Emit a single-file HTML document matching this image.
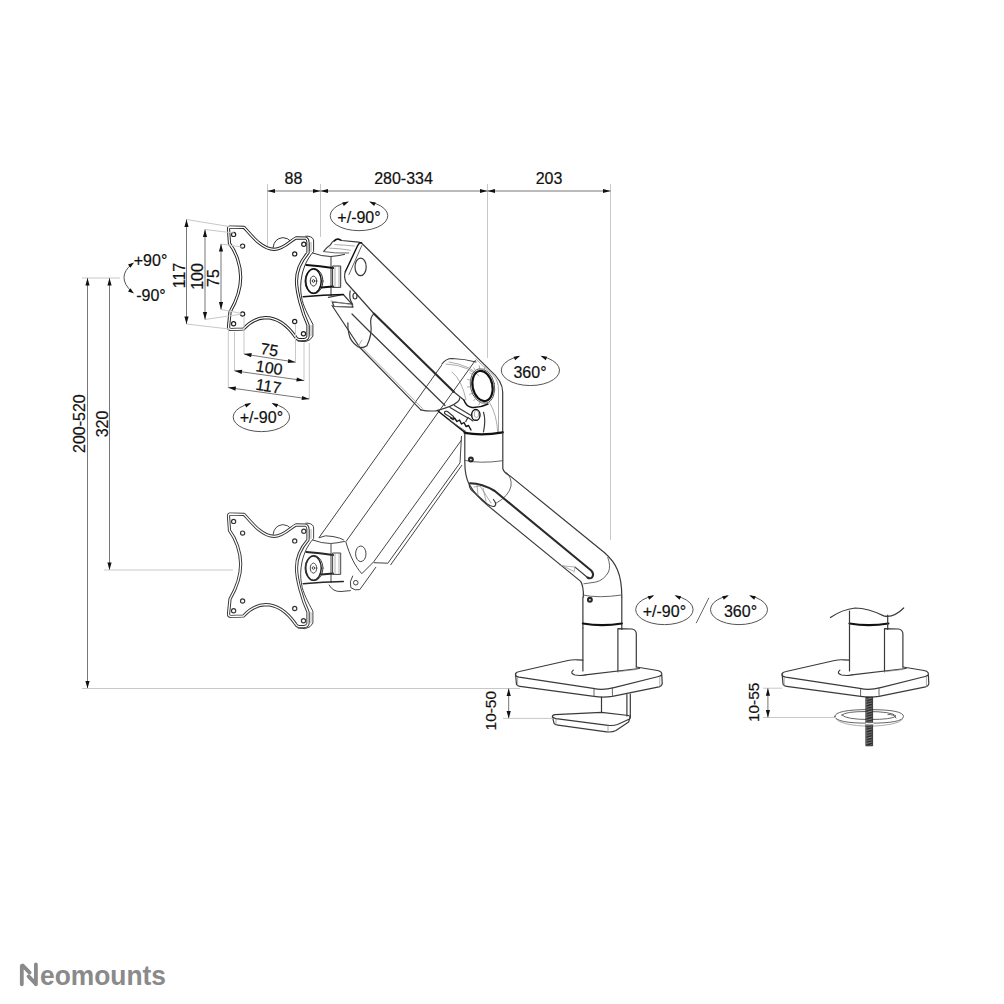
<!DOCTYPE html>
<html><head><meta charset="utf-8">
<style>
html,body{margin:0;padding:0;background:#fff;}
svg{display:block;}
.dim{stroke:#777;stroke-width:1;fill:none;}
.ext{stroke:#c8c8c8;stroke-width:1;fill:none;}
.ah{fill:#111;stroke:none;}
.rot{stroke:#555;stroke-width:1;fill:none;}
.slash{stroke:#666;stroke-width:1;}
.t{font-family:"Liberation Sans",sans-serif;fill:#111;stroke:#111;stroke-width:0.2;text-anchor:middle;}
.o{stroke:#3a3a3a;stroke-width:1.2;fill:none;stroke-linejoin:round;stroke-linecap:round;}
.of{stroke:#222;stroke-width:1;fill:#fff;stroke-linejoin:round;}
.g{stroke:#444;stroke-width:1;fill:none;}
.gf{stroke:#888;stroke-width:0.8;fill:#fff;}
.thick{stroke:#111;stroke-width:2;fill:none;stroke-linecap:round;}
.pl{stroke:#222;stroke-width:1.3;}
.k{stroke:#111;stroke-width:1.4;}
.k2{stroke:#2a2a2a;stroke-width:2.1;}
.k3{stroke:#111;stroke-width:2.2;}
.lt{stroke:#888;stroke-width:0.7;}
.gk{stroke:#777;stroke-width:1.1;}
.bolt{fill:#444;stroke:#222;}
.po{stroke:#222;stroke-width:3.2;fill:#fff;}
.pi{stroke:#fff;stroke-width:1.3;fill:none;}
.pt{stroke:#333;stroke-width:1;fill:none;}
.pk{stroke:#111;stroke-width:1.5;fill:none;}
.pk2{stroke:#111;stroke-width:2;fill:none;}
.ph{stroke:#222;stroke-width:1.2;fill:#fff;}
.g2{stroke:#555;stroke-width:0.9;fill:none;}
.logo{font-family:"Liberation Sans",sans-serif;font-weight:bold;fill:#8a8a8a;}
</style></head><body>
<svg width="1004" height="1004" viewBox="0 0 1004 1004">
<rect width="1004" height="1004" fill="#fff"/>
<!-- ===== GHOST ARM (light) ===== -->
<g class="g">
<!-- arm -->
  <path d="M318.9 537.8 Q325 534.5 333 536.5 Q341 538 343.8 540"/>
  <path d="M328.9 584.7 Q333 592 341 591.5 L350.8 590.6"/>
  <path d="M318.9 537.8 L441.8 365"/>
  <path d="M345.8 541.8 L475.6 360"/>
  <path d="M373.7 561.8 L461.5 440"/>
  <path d="M387.6 563.5 L460 462.8"/>
  <path d="M390.5 565 L462 465"/>
  <path d="M461.5 436 L460 462.8"/>
  <path d="M345.8 541.8 C350 556 355 566 361.8 573.7 L373.7 561.8"/>
  <path d="M373.7 562.7 L387.6 563.2"/>
  <ellipse cx="360.8" cy="553.8" rx="5.2" ry="7.8"/>
  <path d="M352.8 575.7 Q349 582 350.8 587.6 Q355 591 359.8 589.6 L376 567"/>
  <circle cx="355.8" cy="582.7" r="2.3"/>
</g>

<!-- ===== MAIN ARM (dark) ===== -->
<g class="o">
  <path d="M323.7 251.3 Q327 247 330 245.3 Q332.5 241.5 334.2 240.5 Q337 238.5 341.8 240.5 L358.6 242.2 L361.4 242.9"/>
  <path d="M334.9 244.6 Q345 245 354.4 246" class="lt"/>
  <path d="M329.3 248.1 Q340 248.5 350.2 250.2" class="lt"/>
  <path d="M323.7 251.6 Q335 253.5 348.8 253" class="g2"/>
  <path d="M334.3 241 Q337 237.5 340.7 240" class="k"/>
  <path d="M328.4 297.4 L343.3 294.5 L351.7 303.9"/>
  <path d="M332.3 302 L351.7 304 L353 307.1 L334 306.5 Z"/>
  <path d="M331 301 L353 305" class="lt"/>

  <!-- upper arm top shell -->
  <path d="M361.5 243 L489.7 369.9 Q502.7 381 502.7 392 V432.6"/>
  <path d="M475.8 358.9 L493.7 375.9 Q498.5 381 498.5 390 V432" class="lt"/>
  <path d="M361.4 242.9 Q359.5 242.3 357.8 245.3 L345.3 271.8" class="k"/>
  <path d="M345.3 271.8 Q343.5 277 346.2 282.5 L352.9 290 L373.8 313.5"/>
  <path d="M361.8 245.5 L349 274.5" class="g2"/>
  <path d="M373.8 313.5 L454 392" class="k2"/>
  <path d="M454 392 L463.9 400"/>
  <ellipse cx="360.6" cy="266.9" rx="5.6" ry="8.8"/>
  <ellipse cx="355" cy="296" rx="2" ry="3"/>
  <path d="M350.2 290.8 Q348.5 298 352.6 304.3"/>
  <!-- lower channel -->
  <path d="M352 314 L371 333 M371.5 333.3 L445 405.5"/>
  <path d="M332 305.5 L359.8 347.5 L420.8 409.8"/>
  <path d="M361.5 346.8 L422.5 408.5" class="lt"/>
  <path d="M420.8 409.8 Q428 411.5 435.8 410.8 Q452 407 457.7 401.8 Q460 399.5 459.7 397.8"/>
  <path d="M373.8 313.9 Q370 317 370.8 324 Q372.5 334 366.9 345.8 Q362 349 357.9 346.8 Q350 341 348.9 333.8 Q347.5 327 347.9 322.9"/>
  <path d="M357.9 346.8 L362 340" class="lt"/>

  <!-- pivot housing -->
  <path d="M441.9 364 Q446 358.5 452 358.5 Q465 359 476 362"/>
  <path d="M446 364 Q458 364.5 467.8 368.9 L474 373" class="lt"/>
  <path d="M449 362 Q458 363 469 368 Q476 372 479 376" class="lt"/>
  <path d="M452 372 Q462 380 466 400" class="lt"/>
  <path d="M489.7 402.7 Q497 415 497.7 432.6" class="lt"/>
  <path d="M483.5 412.3 Q486 420 483.5 432"/>
  <ellipse cx="482.5" cy="386" rx="9.9" ry="15.3" transform="rotate(-12 482.5 386)" class="k3"/>
  <ellipse cx="482.5" cy="386" rx="12" ry="17.5" transform="rotate(-12 482.5 386)" class="g2"/>
  <path d="M480.1 401.1L478.9 404.9 M476.1 397.7L473.6 400.8 M473.1 392.6L469.6 394.5 M471.4 386.6L467.5 387.0 M471.4 380.4L467.5 379.3 M473.0 375.1L469.8 372.6 M475.9 371.4L473.9 367.9 M479.8 369.7L479.3 365.8 M484.1 370.5L485.1 366.6" class="lt"/>
  <ellipse cx="475.8" cy="414.9" rx="4.2" ry="5.4" class="k"/>
  <ellipse cx="476.5" cy="414" rx="2.3" ry="3.5" class="lt"/>
  
  
  
  
  <path d="M463.9 400 Q466 406.5 472 407.5 Q480 408 488 404" class="k"/>
  <path d="M438 411 L464.9 432.4" class="k"/>
  <path d="M445 411.5 Q443.5 413 446 414.5 L452 418 Q454 418.5 453.5 416.5 L447.5 411.5 Q446 410.8 445 411.5Z"/>
  <path d="M450.5 418 L453 419.5 L454.5 418 L457 421.5 L459.5 420 L461.5 424 L464 422.5 L466 426.5 L468.5 425.5 L471 430" class="k"/>
  <path d="M449 420 L466 431.5" class="g2"/>
  <path d="M450 407.5 L467.9 418 M454.4 405.5 L472 416" />
  <path d="M465.8 421.6 L467.9 417.4 L472.9 420.9"/>
  <path d="M464.6 432.9 Q482 436 502.8 432.3" class="k3"/>

  <!-- upper column + elbow -->
  <path d="M464.8 433.5 V462 Q464.8 476 469.3 484.6 Q476 496 488.5 506.1 L580.7 581.4 Q583.5 586 583.5 597"/>
  <path d="M502.8 432.5 V468.7 Q504 472.5 510 475.9 L604.6 552.7 Q614 561 617.5 570 Q621.8 580 621.8 597"/>
  <path d="M464.6 460.3 Q479 464 502.8 460.7" class="g2"/>
  <circle cx="470.9" cy="459.5" r="1.9" class="k2"/>
  <path d="M506.8 472.7 Q512 478 511 486 Q509 496 496.4 503" class="g2"/>
  <path d="M470.1 483.3 Q482 483.5 494.8 491 L591.2 570.5 Q594.5 574 592 577.5 Q590 579 587.5 577.5" class="k2"/>
  <path d="M587.5 577.5 L575.1 567.1"/>
  <path d="M470.1 483.3 Q467.5 487 473.3 491.8 L486.9 503.7 Q492 507.5 494.8 506.1 Q497 504 493.5 499.5"/>
  <path d="M474 487 L480 486 L491 503 M477 485 L478 495 M483 488 L486 501" class="lt"/>
  <path d="M560 565.5 L575.1 567.1 L574 572 M563 566 L573 571" class="lt"/>

  <!-- lower arm inner arc -->
  <path d="M607.8 557.5 Q611 566 608.5 572 Q604 580 596 582 L583.9 583.8" class="g2"/>

  <!-- lower column (base1 upper part) -->
  <path d="M582.9 597 V628"/>
  <path d="M621.8 597 V629.5"/>
  <path d="M582.9 595 Q598 598.5 621.8 595" class="g2"/>
  <circle cx="589.9" cy="599.8" r="1.9" class="k2"/>
  <!-- lower clamp -->
  <path d="M601.5 697.1 V712.4 M626.9 694.5 V716 M630.3 694 V716.6" />
  <path d="M552.4 716.6 Q552.5 714.8 555 714.6 L601.5 712.4 L628.5 715.5 Q631.5 716.5 629.5 719 L617.5 724.5 Q613.4 726 608 725.3 L556 718.6 Q552.6 718 552.4 716.6 Z"/>
  <path d="M552.4 716.8 L554.1 723.4 Q555 724.8 558 725.2 L606.6 731.8 Q612 732.5 616 730.5 L628.6 722 L630.3 716.6"/>
  <path d="M556 719 V725 M608 725.3 V731.8" class="lt"/>
</g>

<defs>
<g id="base">
  <path d="M582.9 628 V671"/>
  <path d="M582.9 623.5 Q602 626.8 621.8 623.5" class="k3"/>
  <path d="M617.9 671.7 V628.7 L632 629 Q636.3 630 636.3 634 V667"/>
  <path d="M573.3 670.1 Q569.5 673.5 575 675 Q580 676 585.3 674.9"/>
  <path d="M585.3 674.9 L639.4 668.5"/>
  <path d="M617.9 671.7 L636.3 669.5" class="lt"/>
  <path d="M636.3 667 L657.5 670.5 Q663 671.8 661.5 675 Q660.5 676 658.5 676.5 L614 687.6 Q603 690.5 593.2 688.4 L519 677.2 Q515 676.5 515.5 674 Q516 672 519.5 671.5 L568 660.5 Q572 659.5 577.3 659.8 L582.9 660.2"/>
  <path d="M515.5 674 L516.5 684.5 Q517.5 686 520 686.3 L594 696.4 Q603 698 612.4 696.4 L659 686.8 Q662.3 686 662.2 683 L661.8 675"/>
  <path d="M594 689 V696.4 M612.4 688 V696.4" class="g2"/>
  <path d="M659.8 676.5 V686.5 M517.6 677 V685" class="lt"/>
</g>
</defs>
<g class="o"><use href="#base"/><use href="#base" transform="translate(266.6 0)"/></g>

<!-- ===== second base (right) extras ===== -->
<g class="o">
  <path d="M830.4 617.5 Q842 609.5 855.1 608 Q868 608 883.7 615.9 Q893 618.5 903.7 608"/>
  <path d="M849.5 611.2 V628"/>
  <path d="M887.7 615.1 V629.5"/>
  <!-- washer -->
  <path d="M834.8 716.4 Q835 709.6 869 709.6 Q903.3 709.6 903.5 716.4 Q903.3 723.2 869 723.2 Q835 723.2 834.8 716.4 Z" class="g2"/>
  <path d="M842 715 Q845 711.5 867 711.5 Q892 711.5 896 716 Q893 719.5 869 719.5 Q846 719.5 842 715Z" class="g2"/>
  <path d="M836 719 Q841 725.5 869 726.3 Q897 725.5 902.5 719.5" class="lt"/>
  <path d="M888 714.5 Q894 714 896 718" class="g2"/>
  <!-- bolt -->
  <rect x="866.2" y="697.2" width="6.4" height="48.6" fill="url(#thread)" stroke="#222" stroke-width="0.8"/>
  <path d="M866 723.8 H873" stroke="#fff" stroke-width="1.6"/>
  <path d="M866 722.6 Q869 723.2 873 722.6 M866 725 Q869 725.6 873 725" class="lt"/>
</g>
<defs>
<pattern id="thread" patternUnits="userSpaceOnUse" width="6.4" height="2.6" x="866.2" y="697.2">
  <rect width="6.4" height="2.6" fill="#2a2a2a"/>
  <path d="M0 2.2 L6.4 0.6" stroke="#9a9a9a" stroke-width="0.8"/>
</pattern>
</defs>
<defs>
<path id="platepath" d="M230 227 L244 227.3 C252 236 262 249.4 274 249.4 C284 249.4 291 240 296.1 237.9 L305.9 238.1 Q308 239.2 308 242.5 L308 252.9 C300 262 296.5 270 296.5 281 C296.5 292 302 312 308 325 L308 336.8 Q307 339.6 304 339.6 L299 339.6 Q296.5 339.2 295.4 336.8 C287 325 277 317.7 265.5 317.7 C255 318 248 324 243.5 329 L231 329.5 Q228.5 329.3 228.5 327 L230 312 C237 300 240.7 289 240.7 277 C240.7 265 236 252 229.5 243.5 L228.5 229.5 Q228.5 227 230 227 Z"/>
<g id="vesa">
  <!-- thickness band right side -->
  <path d="M305.9 236.2 L308 236.2 Q313.6 237 313.6 241 V251.5 C307 259 303.8 266.8 302 275 C300.3 283 300.3 290 301.5 297 C303 306 308 315 312.9 324.3 V336.1 Q311 340.5 305.2 341.7 L298 341" class="pt"/>
  <path d="M308 242 V252.9 M308 325 V336.8" class="pt"/>
  <path d="M309.5 243 V251 M311 242.5 V251.5 M309.5 326 V335 M311 325.5 V336" class="lt"/>
  <!-- bump -->
  <path d="M273.1 247.5 Q274 238.5 282.9 237.6 Q288 238 290.5 241" class="pt"/>
  <!-- plate front (double line via white core) -->
  <use href="#platepath" class="po"/>
  <use href="#platepath" class="pi"/>
  <circle cx="233.6" cy="234.4" r="2.1" class="ph"/><circle cx="242.6" cy="246.1" r="2.1" class="ph"/>
  <circle cx="303.8" cy="244.2" r="2.1" class="ph"/><circle cx="294.7" cy="253.9" r="2.1" class="ph"/>
  <circle cx="242.6" cy="314" r="2.1" class="ph"/><circle cx="233.6" cy="323.7" r="2.1" class="ph"/>
  <circle cx="294.7" cy="321.5" r="2.1" class="ph"/><circle cx="303.5" cy="333.7" r="2.1" class="ph"/>
  <!-- knuckle -->
  
  <path d="M312.6 253 Q322 256.5 330.7 256.5 Q338 256 344.6 254.4" class="pt"/>
  <path d="M331 257 V295.5" class="pt"/>
  <path d="M303.2 296.8 Q323 295 343.3 294.5" class="pk"/>
  <ellipse cx="314" cy="281.1" rx="9" ry="12.6" class="pt"/>
  <ellipse cx="313.5" cy="281.1" rx="7.75" ry="12.1" class="pk"/>
  <ellipse cx="313.5" cy="281.1" rx="3.25" ry="5" class="pt"/>
  <circle cx="313.5" cy="281" r="1.3" class="pt"/>
  <path d="M306.4 265.1 Q320 266 333 268" class="pk2"/>
  <path d="M321.3 287.4 L333 286.4" class="pk2"/>
  <path d="M333 266 H340.7 V287.4 H333 Z" class="pt"/>
  <path d="M335 267 V286.5 M339 266.5 V287" class="lt"/>
</g>
</defs>
<g class="o"><use href="#vesa"/></g>
<g class="o" opacity="0.9"><use href="#vesa" transform="translate(0 287)"/></g>

<line class="ext" x1="267.5" y1="184" x2="267.5" y2="246"/>
<line class="ext" x1="320.5" y1="184" x2="320.5" y2="237"/>
<line class="ext" x1="487.5" y1="184" x2="487.5" y2="358"/>
<line class="ext" x1="610.5" y1="184" x2="610.5" y2="540"/>
<line class="dim" x1="267.5" y1="191" x2="320.5" y2="191"/>
<path class="ah" d="M320.5 191L313 193.1L313 188.9Z"/>
<path class="ah" d="M267.5 191L275 188.9L275 193.1Z"/>
<line class="dim" x1="320.5" y1="191" x2="487.5" y2="191"/>
<path class="ah" d="M487.5 191L480 193.1L480 188.9Z"/>
<path class="ah" d="M320.5 191L328 188.9L328 193.1Z"/>
<line class="dim" x1="487.5" y1="191" x2="610.5" y2="191"/>
<path class="ah" d="M610.5 191L603 193.1L603 188.9Z"/>
<path class="ah" d="M487.5 191L495 188.9L495 193.1Z"/>
<text class="t" transform="translate(293.5 178) rotate(0)" x="0" y="5.7" font-size="16">88</text>
<text class="t" transform="translate(403.5 178) rotate(0)" x="0" y="5.7" font-size="16">280-334</text>
<text class="t" transform="translate(549 178) rotate(0)" x="0" y="5.7" font-size="16">203</text>
<line class="ext" x1="82" y1="278" x2="120" y2="278"/>
<line class="dim" x1="87.5" y1="688.5" x2="87.5" y2="278"/>
<path class="ah" d="M87.5 278L89.6 285.5L85.4 285.5Z"/>
<path class="ah" d="M87.5 688.5L85.4 681L89.6 681Z"/>
<line class="dim" x1="109.5" y1="570" x2="109.5" y2="278"/>
<path class="ah" d="M109.5 278L111.6 285.5L107.4 285.5Z"/>
<path class="ah" d="M109.5 570L107.4 562.5L111.6 562.5Z"/>
<line class="ext" x1="104" y1="570" x2="233" y2="570"/>
<line class="ext" x1="82" y1="688.5" x2="520" y2="688.5"/>
<text class="t" transform="translate(79.3 423.6) rotate(-90)" x="0" y="5.7" font-size="16">200-520</text>
<text class="t" transform="translate(101.9 424) rotate(-90)" x="0" y="5.7" font-size="16">320</text>
<path class="rot" d="M132 264 Q116 277 132 292"/>
<path class="ah" d="M134 262.5L130.4 267.7L128 264.5Z"/>
<path class="ah" d="M134 293.5L128 291.5L130.4 288.3Z"/>
<text class="t" transform="translate(150.5 260) rotate(0)" x="0" y="5.7" font-size="16">+90°</text>
<text class="t" transform="translate(151 295.5) rotate(0)" x="0" y="5.7" font-size="16">-90°</text>
<line class="ext" x1="186.5" y1="219.5" x2="229" y2="226.5"/>
<line class="ext" x1="205" y1="229.5" x2="234" y2="233"/>
<line class="ext" x1="221" y1="244" x2="242" y2="247"/>
<line class="ext" x1="186.5" y1="324" x2="229" y2="329"/>
<line class="ext" x1="205" y1="319.5" x2="242" y2="314"/>
<line class="ext" x1="221" y1="309.5" x2="242" y2="313.5"/>
<line class="dim" x1="186.5" y1="219.5" x2="186.5" y2="324"/>
<path class="ah" d="M186.5 324L184.4 316.5L188.6 316.5Z"/>
<path class="ah" d="M186.5 219.5L188.6 227L184.4 227Z"/>
<line class="dim" x1="205" y1="229.5" x2="205" y2="319.5"/>
<path class="ah" d="M205 319.5L202.9 312L207.1 312Z"/>
<path class="ah" d="M205 229.5L207.1 237L202.9 237Z"/>
<line class="dim" x1="221" y1="244" x2="221" y2="309.5"/>
<path class="ah" d="M221 309.5L218.9 302L223.1 302Z"/>
<path class="ah" d="M221 244L223.1 251.5L218.9 251.5Z"/>
<text class="t" transform="translate(179 275.5) rotate(-90)" x="0" y="5.7" font-size="16">117</text>
<text class="t" transform="translate(197.5 276.5) rotate(-90)" x="0" y="5.7" font-size="16">100</text>
<text class="t" transform="translate(213.5 278) rotate(-90)" x="0" y="5.7" font-size="16">75</text>
<line class="ext" x1="244" y1="316" x2="244" y2="354"/>
<line class="ext" x1="295.5" y1="324" x2="295.5" y2="362"/>
<line class="ext" x1="234.5" y1="332" x2="234.5" y2="371"/>
<line class="ext" x1="304" y1="343" x2="304" y2="381"/>
<line class="ext" x1="228.3" y1="328" x2="228.3" y2="388"/>
<line class="ext" x1="309.3" y1="343" x2="309.3" y2="399"/>
<line class="dim" x1="244" y1="354" x2="295.5" y2="362.2"/>
<path class="ah" d="M295.5 362.2L287.8 363.1L288.4 358.9Z"/>
<path class="ah" d="M244 354L251.7 353.1L251.1 357.3Z"/>
<line class="dim" x1="234.5" y1="370.8" x2="304" y2="380.6"/>
<path class="ah" d="M304 380.6L296.3 381.6L296.9 377.5Z"/>
<path class="ah" d="M234.5 370.8L242.2 369.8L241.6 373.9Z"/>
<line class="dim" x1="228.3" y1="387.6" x2="309.3" y2="399"/>
<path class="ah" d="M309.3 399L301.6 400L302.2 395.9Z"/>
<path class="ah" d="M228.3 387.6L236 386.6L235.4 390.7Z"/>
<text class="t" transform="translate(269.5 349.5) rotate(9.243567510812447)" x="0" y="5.7" font-size="16">75</text>
<text class="t" transform="translate(269.2 367.5) rotate(9.243567510812447)" x="0" y="5.7" font-size="16">100</text>
<text class="t" transform="translate(268.5 386) rotate(9.243567510812447)" x="0" y="5.7" font-size="16">117</text>
<path class="rot" d="M249.9 403.7A28.2 14.6 0 1 0 272.9 403.7"/>
<path class="ah" d="M251.3 403L246.2 407.5L244.6 404.1Z"/>
<path class="ah" d="M271.5 403L278.2 404.1L276.6 407.5Z"/>
<text class="t" transform="translate(261.4 417.5) rotate(0)" x="0" y="5.7" font-size="16">+/-90°</text>
<path class="rot" d="M347.5 202.1A28.8 14.9 0 1 0 370.5 202.1"/>
<path class="ah" d="M348.9 201.5L343.8 206L342.2 202.5Z"/>
<path class="ah" d="M369.1 201.5L375.8 202.5L374.2 206Z"/>
<text class="t" transform="translate(359 217) rotate(0)" x="0" y="5.7" font-size="16">+/-90°</text>
<path class="rot" d="M518.9 356.4A29.1 15.2 0 1 0 541.9 356.4"/>
<path class="ah" d="M520.3 355.8L515.1 360.3L513.6 356.8Z"/>
<path class="ah" d="M540.5 355.8L547.2 356.8L545.7 360.3Z"/>
<text class="t" transform="translate(530 372.4) rotate(0)" x="0" y="5.7" font-size="16">360°</text>
<path class="rot" d="M652.9 595.9A28.7 15 0 1 0 675.9 595.9"/>
<path class="ah" d="M654.3 595.2L649.2 599.7L647.6 596.2Z"/>
<path class="ah" d="M674.5 595.2L681.2 596.2L679.6 599.7Z"/>
<text class="t" transform="translate(664.4 611) rotate(0)" x="0" y="5.7" font-size="16">+/-90°</text>
<path class="rot" d="M727.5 595.9A28.5 15 0 1 0 750.5 595.9"/>
<path class="ah" d="M728.9 595.2L723.8 599.7L722.2 596.3Z"/>
<path class="ah" d="M749.1 595.2L755.8 596.3L754.2 599.7Z"/>
<text class="t" transform="translate(740.5 611) rotate(0)" x="0" y="5.7" font-size="16">360°</text>
<line class="slash" x1="708.9" y1="597.8" x2="696.2" y2="623.2"/>
<line class="dim" x1="508.7" y1="688.5" x2="508.7" y2="718.4"/>
<path class="ah" d="M508.7 718.4L506.6 710.9L510.8 710.9Z"/>
<path class="ah" d="M508.7 688.5L510.8 696L506.6 696Z"/>
<line class="ext" x1="503" y1="718.4" x2="553" y2="718.4"/>
<text class="t" transform="translate(490.5 710.7) rotate(-90)" x="0" y="5.5" font-size="15.4">10-50</text>
<line class="ext" x1="763" y1="688.2" x2="782" y2="688.2"/>
<line class="ext" x1="763" y1="717.5" x2="836" y2="717.5"/>
<line class="dim" x1="767.9" y1="688.2" x2="767.9" y2="717.5"/>
<path class="ah" d="M767.9 717.5L765.8 710L770 710Z"/>
<path class="ah" d="M767.9 688.2L770 695.7L765.8 695.7Z"/>
<text class="t" transform="translate(753.2 702.4) rotate(-90)" x="0" y="5.5" font-size="15.4">10-55</text>
<g class="logo">
<path d="M21.8 984.3V966 M22.8 965.6L29.6 972.6 M28.6 976.4L35.3 983.4 M35.9 984.3V964.4" stroke="#8a8a8a" stroke-width="3.8" fill="none" stroke-linecap="round"/>
<text x="40" y="984.7" font-size="27.5" textLength="126" lengthAdjust="spacingAndGlyphs" transform="translate(0 984.7) scale(1 1) translate(0 -984.7)">eomounts</text>
</g>
</svg>
</body></html>
